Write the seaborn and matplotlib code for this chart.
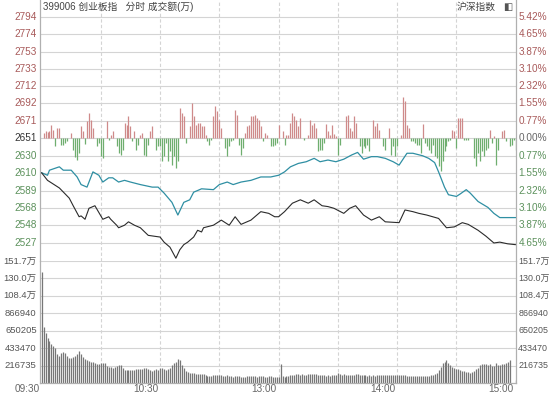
import numpy as np
import pandas as pd
import matplotlib
matplotlib.use('Agg')
import matplotlib.pyplot as plt
import seaborn as sns

# 创业板指 intraday (minute index 0..240, 09:30 -> 15:00)
black_min = [0, 3, 5, 9, 14, 16, 19, 20, 22, 24, 27, 29, 31, 34, 35, 38, 39, 42, 44, 47,
             50, 54, 57, 60, 62, 65, 68, 70, 72, 74, 77, 79, 81, 82, 87, 91, 95, 98, 101, 106,
             111, 115, 118, 120, 123, 127, 131, 135, 138, 142, 145, 148, 153, 156, 159, 163, 167, 171, 174, 181,
             184, 188, 191, 195, 198, 201, 205, 209, 213, 216, 221, 225, 229, 232, 236, 240]
black_val = [2610, 2601, 2598, 2592, 2580, 2571, 2558, 2559, 2555, 2568, 2571, 2563, 2555, 2558, 2555, 2548, 2545, 2548, 2552, 2548,
             2545, 2536, 2535, 2534, 2528, 2522, 2509, 2519, 2525, 2528, 2534, 2542, 2540, 2545, 2548, 2554, 2548, 2558, 2549, 2554,
             2564, 2562, 2558, 2558, 2564, 2574, 2578, 2574, 2578, 2571, 2570, 2568, 2562, 2568, 2571, 2560, 2554, 2558, 2552, 2551,
             2566, 2564, 2562, 2560, 2558, 2556, 2545, 2546, 2551, 2549, 2542, 2535, 2527, 2528, 2526, 2525]

# 沪深指数 (scaled onto the same axis)
blue_min = [0, 3, 4, 9, 11, 15, 18, 20, 23, 26, 29, 31, 34, 36, 39, 42, 45, 50, 56, 59,
            62, 66, 69, 72, 75, 77, 81, 87, 90, 94, 97, 101, 106, 111, 116, 120, 123, 126, 130, 134,
            138, 141, 145, 149, 153, 157, 160, 163, 167, 170, 174, 178, 181, 185, 188, 193, 196, 199, 201, 204,
            206, 210, 212, 215, 217, 221, 226, 229, 232, 236, 240]
blue_val = [2610, 2607, 2613, 2617, 2613, 2613, 2605, 2596, 2593, 2611, 2607, 2599, 2604, 2604, 2599, 2601, 2599, 2596, 2593, 2593,
            2586, 2575, 2560, 2575, 2578, 2587, 2591, 2590, 2596, 2599, 2596, 2599, 2601, 2605, 2605, 2607, 2611, 2617, 2621, 2623,
            2627, 2623, 2625, 2623, 2626, 2631, 2634, 2626, 2629, 2629, 2627, 2623, 2619, 2633, 2633, 2630, 2627, 2622, 2611, 2593,
            2584, 2582, 2585, 2590, 2586, 2576, 2569, 2562, 2557, 2557, 2557]

# red / green strength bars around the previous close
prev_close = 2651
bar_min = [1, 2, 3, 4, 5, 6, 7, 8, 9, 10, 11, 12, 13, 15, 16, 17, 18, 19, 20, 21,
           22, 23, 24, 25, 26, 28, 29, 30, 31, 33, 34, 35, 36, 38, 39, 40, 41, 42, 43, 44,
           45, 46, 47, 48, 49, 50, 51, 52, 53, 54, 55, 56, 58, 59, 60, 61, 62, 63, 64, 65,
           66, 67, 68, 69, 70, 71, 72, 73, 75, 76, 77, 78, 79, 80, 81, 82, 83, 84, 85, 86,
           87, 88, 89, 90, 91, 93, 94, 95, 96, 97, 98, 99, 100, 101, 102, 103, 104, 105, 106, 107,
           108, 109, 110, 111, 112, 113, 114, 116, 117, 118, 119, 120, 122, 123, 124, 125, 126, 127, 128, 129,
           130, 131, 133, 135, 136, 137, 138, 139, 140, 141, 142, 143, 144, 145, 146, 147, 148, 149, 150, 151,
           154, 155, 156, 157, 158, 159, 161, 162, 163, 164, 165, 166, 168, 169, 170, 171, 173, 174, 176, 177,
           178, 179, 180, 182, 183, 184, 185, 186, 187, 188, 189, 190, 191, 192, 193, 194, 195, 196, 197, 198,
           199, 200, 201, 202, 203, 204, 205, 206, 207, 208, 209, 210, 211, 212, 213, 214, 215, 216, 219, 220,
           221, 222, 223, 224, 225, 226, 227, 228, 229, 230, 231, 233, 234, 235, 237, 238, 239, 240]
bar_val = [5.9, 7.9, 7.1, 8.7, 15.8, 9.9, -9.9, 11.8, 11.8, -7.9, -7.9, -5.9, -3.9, 5.9, -13.8, -22.9, -25.6, -17.7, 13.8, 7.9,
           -7.1, 19.7, 29.6, 21.7, 11.8, -9.9, -5.9, -21.7, -23.6, 19.7, -2.0, 3.9, 7.9, -9.9, -17.7, -19.7, -13.8, 17.7, 15.8, 25.6,
           13.8, -3.9, 7.9, -13.8, -7.9, 3.9, 5.9, -19.7, -21.7, -7.9, 7.9, 13.8, -13.8, -9.9, -9.9, -27.6, -21.7, -5.9, -27.6, -15.8,
           -31.5, -21.7, -35.5, -27.6, 35.5, 29.6, 25.6, -5.9, 13.8, 41.4, 25.6, 15.8, 17.7, 17.7, 13.8, 13.8, 3.9, -3.9, -7.9, -2.0,
           25.6, 37.4, 31.5, 21.7, 11.8, -11.8, -21.7, -9.9, -3.9, -2.0, 33.5, 27.6, -7.9, -19.7, -11.8, 5.9, 13.8, 15.8, 25.6, 25.6,
           27.6, 23.6, 21.7, 13.8, -3.9, 5.9, 3.9, -9.9, -9.9, -7.9, -5.9, 15.8, 7.9, -7.9, 3.9, 3.9, 17.7, 29.6, 25.6, 21.7,
           13.8, 23.6, -2.0, 3.9, 21.7, 15.8, 17.7, 11.8, -15.8, -13.8, -13.8, -5.9, 16.5, 7.9, 3.9, 15.8, 4.7, 2.0, -19.7, -7.9,
           25.6, 26.8, 11.8, 7.9, 25.6, 17.7, -9.9, -17.7, -9.9, -11.8, -7.9, -15.8, 21.7, 13.8, 17.7, 9.9, -9.9, -13.8, 11.8, -19.7,
           -9.9, -21.7, -9.9, 3.9, 48.1, 43.3, 15.8, 11.8, -3.2, -3.9, -5.9, -7.9, -7.9, -17.7, 16.9, -5.9, -9.9, -13.8, -17.7, -7.9,
           -21.7, -23.6, -33.5, -39.4, -27.6, -15.8, -9.9, -3.9, -2.0, 9.9, 7.9, -11.8, 23.6, 23.6, 23.6, -2.0, -2.0, -2.0, -23.6, -33.5,
           -17.7, -27.6, -15.8, -21.7, -13.8, -11.8, 9.9, -5.9, 2.0, -31.5, -13.8, 7.9, 9.9, -3.9, -9.9, -7.9, -2.0, -13.8]

# 成交额 per minute, thousands
vol_k = [1380, 700, 620, 560, 520, 480, 455, 430, 360, 335,
         370, 385, 375, 330, 310, 315, 320, 340, 365, 400,
         355, 320, 300, 290, 275, 265, 255, 250, 240, 238,
         250, 245, 250, 210, 200, 200, 190, 205, 210, 225,
         230, 190, 165, 160, 158, 165, 160, 165, 170, 170,
         175, 180, 185, 185, 170, 165, 155, 165, 175, 160,
         185, 190, 180, 160, 170, 190, 230, 250, 265, 295,
         280, 230, 190, 150, 135, 130, 128, 120, 118, 115,
         110, 108, 110, 100, 85, 82, 90, 95, 100, 105,
         100, 95, 90, 85, 95, 90, 85, 80, 88, 92,
         90, 78, 72, 80, 85, 82, 88, 90, 84, 80,
         85, 90, 88, 80, 78, 85, 82, 76, 80, 78,
         80,
         235, 85, 80, 88, 90, 95, 100, 105, 110, 108,
         105, 110, 100, 105, 108, 110, 112, 115, 110, 105,
         100, 95, 95, 90, 95, 92, 95, 98, 100, 120,
         110, 105, 108, 105, 100, 102, 105, 100, 108, 110,
         100, 95, 98, 95, 92, 95, 90, 95, 92, 95,
         95, 98, 100, 95, 98, 100, 102, 98, 100, 105,
         102, 98, 100, 105, 90, 85, 88, 85, 82, 85,
         88, 85, 86, 85, 88, 90, 95, 100, 110, 125,
         160, 200, 250, 265, 280, 250, 220, 200, 190, 175,
         170, 160, 155, 150, 140, 135, 130, 140, 150, 170,
         190, 220, 235, 240, 235, 225, 235, 215, 210, 245,
         225, 220, 240, 235, 250, 260, 285, 0, 0, 40]

price_ticks = [2794, 2774, 2753, 2733, 2712, 2692, 2671, 2651, 2630, 2610, 2589, 2568, 2548, 2527]
pct_labels = ['5.42%', '4.65%', '3.87%', '3.10%', '2.32%', '1.55%', '0.77%', '0.00%',
              '0.77%', '1.55%', '2.32%', '3.10%', '3.87%', '4.65%']
vol_ticks = [216735 * k for k in range(1, 8)]
vol_labels = ['216735', '433470', '650205', '866940', '108.4万', '130.0万', '151.7万']
time_pos = [0, 60, 120, 180, 240]
time_labels = ['09:30', '10:30', '13:00', '14:00', '15:00']

sns.set_theme(style='white')
plt.rcParams['font.family'] = ['Liberation Sans', 'Noto Sans CJK SC', 'DejaVu Sans']

W, H = 550, 399
fig = plt.figure(figsize=(W / 100, H / 100), dpi=100)
L, R = 40 / W, 516 / W
ax = fig.add_axes([L, 1 - 261 / H, R - L, 261 / H])
axv = fig.add_axes([L, 1 - 383 / H, R - L, 122 / H])

red_c, green_c = '#a85a5a', '#5c915c'
grid_c = '#d4d4d4'
edge_c = '#b0b0b0'
fs = 7.2

for a in (ax, axv):
    a.set_xlim(-0.8, 240.2)
    for side, s in a.spines.items():
        s.set_visible(side in ('left', 'right'))
        s.set_color(edge_c)
        s.set_linewidth(0.9)
    a.set_xticks([])
    a.set_yticks([])
    for m in range(30, 240, 30):
        a.axvline(m, color=grid_c, lw=0.8, ls=(0, (3, 2)), zorder=0)
axv.spines['bottom'].set_visible(True)

# price panel
ax.set_ylim(2505.7, 2814.1)
for t in price_ticks:
    ax.axhline(t, color=grid_c, lw=0.8, zorder=0)

bars = pd.DataFrame({'m': bar_min, 'v': bar_val})
pos = bars[bars.v > 0]
neg = bars[bars.v < 0]
ax.vlines(pos.m, prev_close, prev_close + pos.v, colors='#cf8a8a', lw=0.9, zorder=1)
ax.vlines(neg.m, prev_close, prev_close + neg.v, colors='#6fae6f', lw=0.9, zorder=1)

df_b = pd.DataFrame({'m': black_min, 'v': black_val})
df_s = pd.DataFrame({'m': blue_min, 'v': blue_val})
sns.lineplot(data=df_s, x='m', y='v', ax=ax, color='#2f8fa3', lw=0.9, zorder=3)
sns.lineplot(data=df_b, x='m', y='v', ax=ax, color='#2b2b2b', lw=0.8, zorder=3)
ax.set_xlabel('')
ax.set_ylabel('')

for t, p in zip(price_ticks, pct_labels):
    c = red_c if t > prev_close else (green_c if t < prev_close else '#333333')
    ax.text(-2.5, t, str(t), ha='right', va='center', fontsize=fs, color=c)
    ax.text(241.5, t, p, ha='left', va='center', fontsize=fs, color=c if t != prev_close else '#666666')

ax.text(0.5, 2806, '399006 创业板指   分时 成交额(万)', ha='left', va='center', fontsize=7, color='#444444')
ax.text(230, 2806, '沪深指数', ha='right', va='center', fontsize=7, color='#444444')
ax.text(236, 2806, '◧', ha='center', va='center', fontsize=7, color='#555555', family=['DejaVu Sans'])

# volume panel
axv.set_ylim(0, 216735 * 7)
for t in vol_ticks:
    axv.axhline(t, color=grid_c, lw=0.8, zorder=0)
vol = np.array(vol_k) * 1000
axv.vlines(np.arange(len(vol)), 0, vol, colors='#777777', lw=0.9, zorder=2)
for t, lab in zip(vol_ticks, vol_labels):
    axv.text(-2.5, t, lab, ha='right', va='center', fontsize=6.8, color='#555555')
    axv.text(241.3, t, lab, ha='left', va='center', fontsize=6.4, color='#555555')

for p, lab in zip(time_pos, time_labels):
    axv.text(p - 1, -75000, lab, ha='right', va='center', fontsize=fs, color='#666666')

fig.savefig('out.png', dpi=100, facecolor='white')
